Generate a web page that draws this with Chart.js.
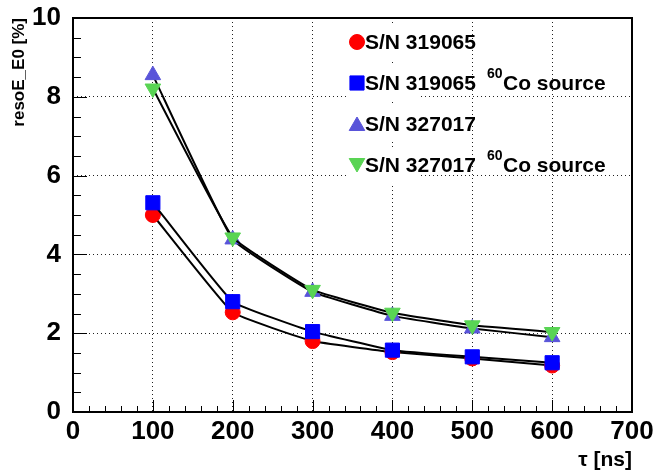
<!DOCTYPE html>
<html>
<head>
<meta charset="utf-8">
<script src="https://cdn.jsdelivr.net/npm/chart.js@4"></script>
<style>
  html, body { margin: 0; padding: 0; background: #fff; }
  #wrap { width: 655px; height: 470px; }
</style>
</head>
<body>
<div id="wrap"><canvas id="resoChart" width="655" height="470"></canvas></div>
<script>
// tau values (ns)
const tau = [100, 200, 300, 400, 500, 600];

// energy resolution [%] per PMT
const sn319065   = [5.00, 2.53, 1.80, 1.52, 1.36, 1.18];
const sn319065Co = [5.31, 2.80, 2.04, 1.57, 1.40, 1.25];
const sn327017   = [8.55, 4.38, 3.05, 2.44, 2.12, 1.90];
const sn327017Co = [8.21, 4.43, 3.10, 2.52, 2.20, 2.03];

// legend text: [main, superscript, tail]
const legendLabels = [
  ['S/N 319065', '', ''],
  ['S/N 319065', '60', 'Co source'],
  ['S/N 327017', '', ''],
  ['S/N 327017', '60', 'Co source']
];

const FONT = "'Liberation Sans', Arial, Helvetica, sans-serif";

function toXY(ys) {
  return tau.map((t, i) => ({ x: t, y: ys[i] }));
}

function makeSet(ys, color, style, rot, radius, order, idx) {
  return {
    data: toXY(ys),
    legendIdx: idx,
    borderColor: '#000',
    borderWidth: 2,
    tension: 0.1,
    pointStyle: style,
    pointRotation: rot,
    pointRadius: radius,
    pointHoverRadius: radius,
    pointBackgroundColor: color,
    pointBorderColor: color,
    pointBorderWidth: 1,
    order: order
  };
}

// ROOT-like frame, inward ticks and legend
const rootStyle = {
  id: 'rootStyle',
  beforeDatasetsDraw(chart) {
    const { ctx, chartArea: a, scales } = chart;
    const xs = scales.x, ys = scales.y;
    ctx.save();
    ctx.strokeStyle = '#000';
    ctx.lineWidth = 1;
    ctx.beginPath();
    // x ticks: major each 100, minor each 20
    for (let v = 0; v <= 700; v += 20) {
      const px = Math.round(xs.getPixelForValue(v)) + 0.5;
      const len = v % 100 === 0 ? 12 : 6;
      ctx.moveTo(px, a.bottom);
      ctx.lineTo(px, a.bottom - len);
    }
    // y ticks: major each 2, minor each 0.5
    for (let k = 0; k <= 20; k++) {
      const py = Math.round(ys.getPixelForValue(k * 0.5)) + 0.5;
      const len = k % 4 === 0 ? 14 : 8;
      ctx.moveTo(a.left, py);
      ctx.lineTo(a.left + len, py);
    }
    ctx.stroke();
    ctx.lineWidth = 2;
    ctx.strokeRect(a.left, a.top, a.right - a.left, a.bottom - a.top);
    ctx.restore();
  },
  afterDatasetsDraw(chart) {
    const { ctx } = chart;
    const rowY = [42, 83, 124, 165];
    ctx.save();
    // white entry boxes hide the grid behind the legend
    chart.data.datasets.forEach(ds => {
      const y = rowY[ds.legendIdx];
      ctx.fillStyle = '#fff';
      ctx.fillRect(347, y - 18, 73, 36);
    });
    chart.data.datasets.forEach(ds => {
      const i = ds.legendIdx;
      const y = rowY[i];
      ctx.fillStyle = ds.pointBackgroundColor;
      ctx.strokeStyle = ds.pointBorderColor;
      ctx.lineWidth = 1;
      let dy = 0;
      if (ds.pointStyle === 'triangle') dy = ds.pointRotation ? -2 : 2;
      Chart.helpers.drawPoint(ctx, {
        pointStyle: ds.pointStyle,
        rotation: ds.pointRotation,
        radius: ds.pointRadius,
        borderWidth: 1
      }, 357, y + dy);
      const [main, sup, tail] = legendLabels[i];
      ctx.fillStyle = '#000';
      ctx.font = 'bold 21px ' + FONT;
      ctx.textBaseline = 'middle';
      ctx.textAlign = 'left';
      ctx.fillText(main, 365, y + 1);
      if (sup) {
        ctx.font = 'bold 14px ' + FONT;
        ctx.fillText(sup, 487, y - 9);
        ctx.font = 'bold 21px ' + FONT;
        ctx.fillText(tail, 503, y + 1);
      }
    });
    ctx.restore();
  }
};

const gridColor = ctx => {
  const v = ctx.tick ? ctx.tick.value : null;
  if (ctx.scale.axis === 'x' && (v === 0 || v === 700)) return 'rgba(0,0,0,0)';
  if (ctx.scale.axis === 'y' && (v === 0 || v === 10)) return 'rgba(0,0,0,0)';
  return '#222';
};

document.addEventListener('DOMContentLoaded', function () {
  const ctx = document.getElementById('resoChart').getContext('2d');
  new Chart(ctx, {
    type: 'line',
    data: {
      datasets: [
        makeSet(sn319065,   '#ff0000', 'circle',   0,   7.5, 4, 0),
        makeSet(sn319065Co, '#0000ff', 'rect',     0,   10,  3, 1),
        makeSet(sn327017,   '#5954d9', 'triangle', 0,   9,   2, 2),
        makeSet(sn327017Co, '#59d454', 'triangle', 180, 9,   1, 3)
      ]
    },
    options: {
      responsive: false,
      animation: false,
      events: [],
      layout: { padding: { top: 18, right: 23, left: 0, bottom: 0 } },
      plugins: {
        legend: { display: false },
        tooltip: { enabled: false }
      },
      scales: {
        x: {
          type: 'linear',
          min: 0,
          max: 700,
          afterFit(scale) { scale.height = 58; scale.paddingLeft = 0; scale.paddingRight = 0; },
          ticks: {
            stepSize: 100,
            maxRotation: 0,
            padding: 4,
            color: '#000',
            font: { family: FONT, size: 26, weight: 'bold' }
          },
          grid: { color: gridColor, lineWidth: 1, drawTicks: false },
          border: { display: false, dash: [1, 3] },
          title: {
            display: true,
            text: 'τ [ns]',
            align: 'end',
            color: '#000',
            font: { family: FONT, size: 21, weight: 'bold' },
            padding: { top: 0, bottom: -3 }
          }
        },
        y: {
          min: 0,
          max: 10,
          afterFit(scale) { scale.width = 73; scale.paddingTop = 0; scale.paddingBottom = 0; },
          ticks: {
            stepSize: 2,
            padding: 12,
            color: '#000',
            font: { family: FONT, size: 26, weight: 'bold' }
          },
          grid: { color: gridColor, lineWidth: 1, drawTicks: false },
          border: { display: false, dash: [1, 3] },
          title: {
            display: true,
            text: 'resoE_E0 [%]',
            align: 'end',
            color: '#000',
            font: { family: FONT, size: 17, weight: 'bold' },
            padding: { top: 9, bottom: 0 }
          }
        }
      }
    },
    plugins: [rootStyle]
  });
});
</script>
</body>
</html>
